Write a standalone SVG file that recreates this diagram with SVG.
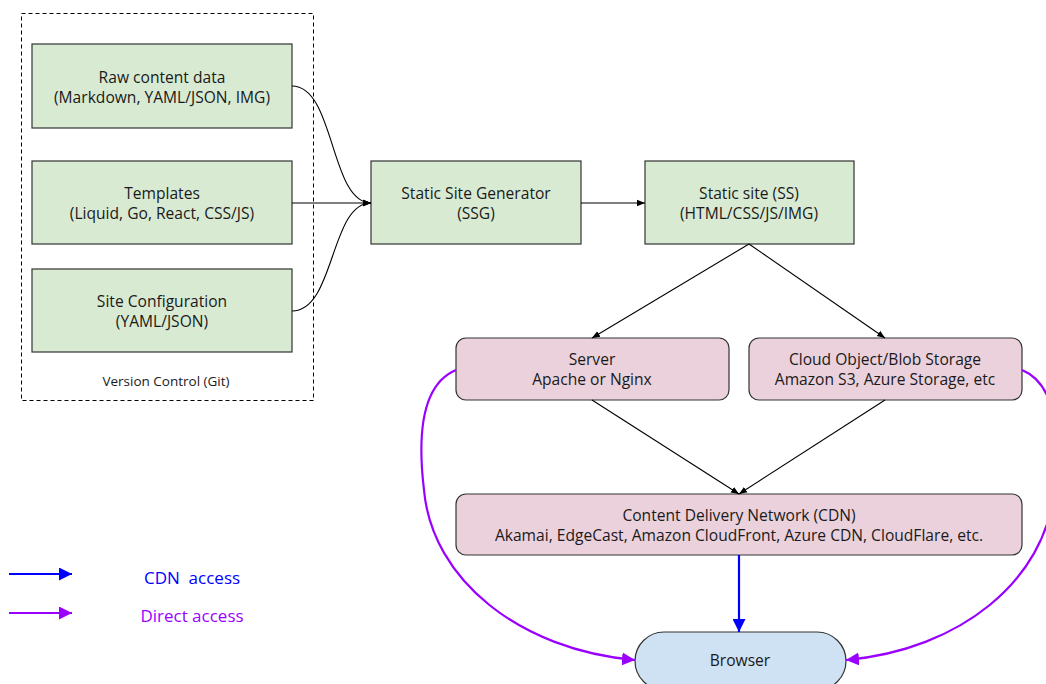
<svg xmlns="http://www.w3.org/2000/svg" width="1046" height="684" viewBox="0 0 1046 684">
  <style>
    text { font-family: "Open Sans", "Noto Sans", "Liberation Sans", sans-serif; fill: #1a1a1a; text-anchor: middle; dominant-baseline: central; }
    .lbl { font-size: 15.6px; }
    .green { fill: #d9ead3; stroke: #333; stroke-width: 1.2; }
    .pink { fill: #ead1dc; stroke: #333; stroke-width: 1.2; }
    .blue { fill: #cfe2f3; stroke: #333; stroke-width: 1.2; }
    .edge { fill: none; stroke: #000; stroke-width: 1.1; }
    .cdn { fill: none; stroke: #0000ff; stroke-width: 2.2; }
    .direct { fill: none; stroke: #9900ff; stroke-width: 2.2; }
  </style>
  <defs>
    <marker id="ah" viewBox="0 0 10 10" refX="10" refY="5" markerWidth="8" markerHeight="8" markerUnits="userSpaceOnUse" orient="auto">
      <path d="M0,1 L10,5 L0,9 z" fill="#000"/>
    </marker>
    <marker id="ah-blue" viewBox="0 0 10 10" refX="10" refY="5" markerWidth="13" markerHeight="13" markerUnits="userSpaceOnUse" orient="auto">
      <path d="M0,0 L10,5 L0,10 z" fill="#0000ff"/>
    </marker>
    <marker id="ah-purple" viewBox="0 0 10 10" refX="10" refY="5" markerWidth="13" markerHeight="13" markerUnits="userSpaceOnUse" orient="auto">
      <path d="M0,0 L10,5 L0,10 z" fill="#9900ff"/>
    </marker>
  </defs>

  <!-- version control boundary -->
  <g id="version-control">
    <rect x="21.5" y="13.5" width="292" height="387" fill="none" stroke="#000" stroke-width="1" stroke-dasharray="4,3"/>
    <text x="166" y="381" style="font-size:13.5px">Version Control (Git)</text>
  </g>

  <g id="raw-content">
    <rect class="green" x="32" y="44" width="260" height="84"/>
    <text class="lbl" x="162" y="77">Raw content data</text>
    <text class="lbl" x="162" y="97">(Markdown, YAML/JSON, IMG)</text>
  </g>
  <g id="templates">
    <rect class="green" x="32" y="161" width="260" height="83"/>
    <text class="lbl" x="162" y="193">Templates</text>
    <text class="lbl" x="162" y="213">(Liquid, Go, React, CSS/JS)</text>
  </g>
  <g id="site-config">
    <rect class="green" x="32" y="269" width="260" height="83"/>
    <text class="lbl" x="162" y="301">Site Configuration</text>
    <text class="lbl" x="162" y="321">(YAML/JSON)</text>
  </g>
  <g id="ssg">
    <rect class="green" x="371" y="161" width="210" height="83"/>
    <text class="lbl" x="476" y="193">Static Site Generator</text>
    <text class="lbl" x="476" y="213">(SSG)</text>
  </g>
  <g id="static-site">
    <rect class="green" x="645" y="161" width="209" height="83"/>
    <text class="lbl" x="749" y="193">Static site (SS)</text>
    <text class="lbl" x="749" y="213">(HTML/CSS/JS/IMG)</text>
  </g>
  <g id="server">
    <rect class="pink" x="456" y="338" width="273" height="62" rx="10"/>
    <text class="lbl" x="592" y="359">Server</text>
    <text class="lbl" x="592" y="379">Apache or Nginx</text>
  </g>
  <g id="cloud-storage">
    <rect class="pink" x="749" y="338" width="273" height="62" rx="10"/>
    <text class="lbl" x="885" y="359">Cloud Object/Blob Storage</text>
    <text class="lbl" x="885" y="379">Amazon S3, Azure Storage, etc</text>
  </g>
  <g id="cdn">
    <rect class="pink" x="456" y="494" width="566" height="61" rx="10"/>
    <text class="lbl" x="739" y="515">Content Delivery Network (CDN)</text>
    <text class="lbl" x="739" y="535">Akamai, EdgeCast, Amazon CloudFront, Azure CDN, CloudFlare, etc.</text>
  </g>
  <g id="browser">
    <rect class="blue" x="635" y="632" width="211" height="58" rx="29"/>
    <text class="lbl" x="740" y="660">Browser</text>
  </g>

  <!-- connectors -->
  <g id="connectors">
    <path class="edge" d="M292,86 C335,86 330,203 371,203" marker-end="url(#ah)"/>
    <path class="edge" d="M292,203 L371,203" marker-end="url(#ah)"/>
    <path class="edge" d="M292,311 C335,311 330,203 371,203" marker-end="url(#ah)"/>
    <path class="edge" d="M581,203 L645,203" marker-end="url(#ah)"/>
    <path class="edge" d="M749,244 L592,338" marker-end="url(#ah)"/>
    <path class="edge" d="M749,244 L885,338" marker-end="url(#ah)"/>
    <path class="edge" d="M592,400 L739,494" marker-end="url(#ah)"/>
    <path class="edge" d="M885,400 L739,494" marker-end="url(#ah)"/>
    <path class="cdn" d="M739,555 L739,632" marker-end="url(#ah-blue)"/>
    <path class="direct" d="M456,370 C420,385 418,440 424,490 C432,580 520,650 635,660" marker-end="url(#ah-purple)"/>
    <path class="direct" d="M1022,370 C1058,385 1060,440 1054,490 C1046,580 960,650 846,660" marker-end="url(#ah-purple)"/>
  </g>

  <!-- legend -->
  <g id="legend">
    <path class="cdn" d="M9,574 L72,574" marker-end="url(#ah-blue)"/>
    <text x="192" y="577" style="font-size:17px;fill:#0000ff" xml:space="preserve">CDN  access</text>
    <path class="direct" d="M9,613 L72,613" marker-end="url(#ah-purple)"/>
    <text x="192" y="615" style="font-size:17px;fill:#9900ff">Direct access</text>
  </g>
</svg>
